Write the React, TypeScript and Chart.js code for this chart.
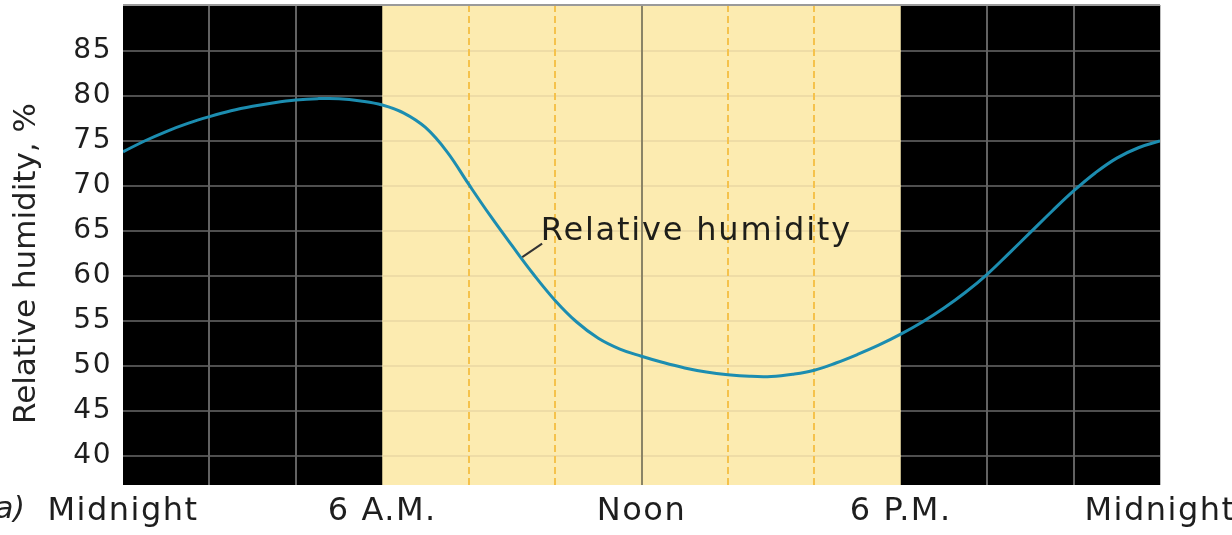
import React, { useEffect, useRef } from 'react';
import { Chart, registerables } from 'chart.js';

Chart.register(...registerables);

// ---- data (readings every half hour) ----
const HOURS = [
  0, 0.5, 1, 1.5, 2, 2.5, 3, 3.5, 4, 4.5, 5, 5.5, 6, 6.5, 7, 7.5, 8, 8.5, 9, 9.5, 10, 10.5, 11, 11.5, 12,
  12.5, 13, 13.5, 14, 14.5, 15, 15.5, 16, 16.5, 17, 17.5, 18, 18.5, 19, 19.5, 20, 20.5, 21, 21.5, 22, 22.5, 23, 23.5, 24,
];
const HUMIDITY = [
  73.8, 75.0, 76.05, 76.95, 77.7, 78.35, 78.85, 79.25, 79.55, 79.7, 79.7, 79.45, 79.0, 78.1, 76.5, 73.8, 70.2, 66.7, 63.4, 60.2, 57.3, 54.9, 53.1, 51.9, 51.1,
  50.4, 49.8, 49.35, 49.05, 48.87, 48.85, 49.1, 49.55, 50.35, 51.3, 52.35, 53.55, 54.9, 56.45, 58.2, 60.2, 62.5, 64.85, 67.2, 69.45, 71.45, 73.1, 74.25, 75.0,
];
const Y_TICKS = [40, 45, 50, 55, 60, 65, 70, 75, 80, 85];
const X_TICKS = [0, 6, 12, 18, 24];
const X_LABELS = ['Midnight', '6 A.M.', 'Noon', '6 P.M.', 'Midnight'];
const GRID_HOURS = [2, 4, 6, 8, 10, 12, 14, 16, 18, 20, 22];
const DAY_START = 6;
const DAY_END = 18;
const NOON = 12;
const Y_MIN = 36.8;
const Y_MAX = 90.1;
const SERIES_LABEL = 'Relative humidity';
const Y_TITLE = 'Relative humidity, %';
const PANEL_LABEL = 'a)';
// annotation anchor (data units)
const ANNOT_HOUR = 9.67;
const ANNOT_VALUE = 64.0;
const LEADER_FROM = [9.24, 62.1];
const LEADER_TO = [9.7, 63.6];

const FONT = '"DejaVu Sans", "Liberation Sans", sans-serif';

const backdrop = {
  id: 'backdrop',
  afterLayout(chart: any) {
    // centre the rotated axis title a little lower, as in the original
    chart.scales.y.bottom += 37;
  },
  beforeDraw(chart: any) {
    chart.ctx.letterSpacing = '0px';
  },
  beforeDatasetsDraw(chart: any) {
    const { ctx, chartArea: a, scales } = chart;
    const x = scales.x;
    const y = scales.y;
    const line = (x1: number, y1: number, x2: number, y2: number) => {
      ctx.beginPath();
      ctx.moveTo(x1, y1);
      ctx.lineTo(x2, y2);
      ctx.stroke();
    };
    ctx.save();
    ctx.fillStyle = '#000000';
    ctx.fillRect(a.left, a.top, a.right - a.left, a.bottom - a.top);
    const d0 = x.getPixelForValue(DAY_START);
    const d1 = x.getPixelForValue(DAY_END);
    ctx.fillStyle = '#fcebb0';
    ctx.fillRect(d0, a.top, d1 - d0, a.bottom - a.top);

    ctx.lineWidth = 2;
    for (const v of Y_TICKS) {
      const py = Math.round(y.getPixelForValue(v));
      ctx.strokeStyle = '#4f4f4f';
      line(a.left, py, d0, py);
      line(d1, py, a.right, py);
      ctx.strokeStyle = '#eedca6';
      line(d0, py, d1, py);
    }
    for (const h of GRID_HOURS) {
      if (h === DAY_START || h === DAY_END) continue;
      const px = Math.round(x.getPixelForValue(h));
      ctx.setLineDash([]);
      if (h === NOON) {
        ctx.strokeStyle = '#8a8466';
      } else if (h > DAY_START && h < DAY_END) {
        ctx.strokeStyle = '#f5c24c';
        ctx.setLineDash([7, 4]);
      } else {
        ctx.strokeStyle = '#626262';
      }
      line(px, a.top, px, a.bottom);
    }
    ctx.setLineDash([]);
    ctx.strokeStyle = '#9a9a9a';
    line(a.left, a.top, a.right, a.top);
    ctx.strokeStyle = '#bdbdbd';
    ctx.lineWidth = 1;
    line(a.right + 0.5, a.top, a.right + 0.5, a.bottom);
    ctx.restore();
  },
  afterDatasetsDraw(chart: any) {
    const { ctx, scales } = chart;
    const x = scales.x;
    const y = scales.y;
    ctx.save();
    ctx.strokeStyle = '#333333';
    ctx.lineWidth = 2;
    ctx.beginPath();
    ctx.moveTo(x.getPixelForValue(LEADER_FROM[0]), y.getPixelForValue(LEADER_FROM[1]));
    ctx.lineTo(x.getPixelForValue(LEADER_TO[0]), y.getPixelForValue(LEADER_TO[1]));
    ctx.stroke();
    ctx.font = `32px ${FONT}`;
    ctx.letterSpacing = '1.8px';
    ctx.fillStyle = '#1e1e1a';
    ctx.textAlign = 'left';
    ctx.textBaseline = 'alphabetic';
    ctx.fillText(SERIES_LABEL, x.getPixelForValue(ANNOT_HOUR), y.getPixelForValue(ANNOT_VALUE));
    ctx.restore();
    // tick labels are drawn after this hook: give them the wide look of the original
    ctx.letterSpacing = '1.5px';
  },
  afterDraw(chart: any) {
    const { ctx, chartArea: a } = chart;
    ctx.save();
    ctx.letterSpacing = '0px';
    ctx.font = `italic 30px ${FONT}`;
    ctx.fillStyle = '#222222';
    ctx.textAlign = 'right';
    ctx.textBaseline = 'middle';
    ctx.fillText(PANEL_LABEL, 25, a.bottom + 25);
    ctx.restore();
    ctx.letterSpacing = '0px';
  },
};

export default function App() {
  const ref = useRef<HTMLCanvasElement>(null);
  useEffect(() => {
    if (!ref.current) return;
    const chart = new Chart(ref.current, {
      type: 'line',
      data: {
        datasets: [
          {
            label: SERIES_LABEL,
            data: HOURS.map((h, i) => ({ x: h, y: HUMIDITY[i] })),
            borderColor: '#1c8db0',
            borderWidth: 3,
            pointRadius: 0,
            tension: 0.4,
            fill: false,
          },
        ],
      },
      options: {
        animation: false,
        responsive: true,
        maintainAspectRatio: false,
        layout: { padding: { top: 5, right: 0, bottom: 0, left: 0 } },
        plugins: { legend: { display: false }, tooltip: { enabled: false } },
        scales: {
          x: {
            type: 'linear',
            min: 0,
            max: 24,
            grid: { display: false, drawTicks: false },
            border: { display: false },
            afterBuildTicks: (s: any) => {
              s.ticks = X_TICKS.map((v) => ({ value: v }));
            },
            afterFit: (s: any) => {
              s.height = 50;
              s.paddingRight = 72;
              s.paddingLeft = 0;
            },
            ticks: {
              z: 1,
              padding: 7,
              maxRotation: 0,
              autoSkip: false,
              color: '#1e1e1e',
              font: { family: FONT, size: 32 },
              callback: (v: any) => {
                const i = X_TICKS.indexOf(Number(v));
                return i >= 0 ? X_LABELS[i] : '';
              },
            },
          },
          y: {
            type: 'linear',
            min: Y_MIN,
            max: Y_MAX,
            grid: { display: false, drawTicks: false },
            border: { display: false },
            afterBuildTicks: (s: any) => {
              s.ticks = Y_TICKS.map((v) => ({ value: v }));
            },
            afterFit: (s: any) => {
              s.width = 123;
              s.paddingTop = 0;
              s.paddingBottom = 0;
            },
            ticks: {
              z: 1,
              padding: 11,
              color: '#1e1e1e',
              font: { family: FONT, size: 28 },
            },
            title: {
              display: true,
              text: Y_TITLE,
              color: '#222222',
              font: { family: FONT, size: 31 },
              padding: { top: 8, bottom: 0 },
            },
          },
        },
      },
      plugins: [backdrop],
    } as any);
    return () => chart.destroy();
  }, []);
  return (
    <div style={{ position: 'fixed', left: 0, top: 0, width: 1232, height: 535, background: '#ffffff' }}>
      <canvas ref={ref} />
    </div>
  );
}
